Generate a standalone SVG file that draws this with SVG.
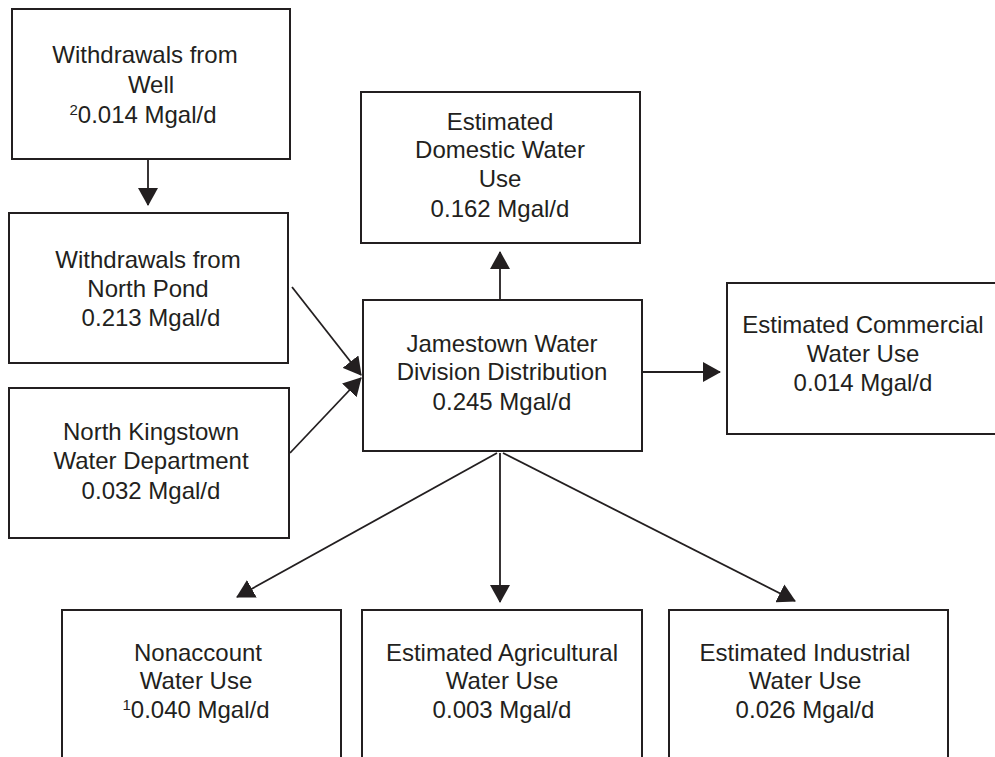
<svg xmlns="http://www.w3.org/2000/svg" width="995" height="757" viewBox="0 0 995 757">
<style>
.box{fill:#fff;stroke:#231f20;stroke-width:2}
.t{font-family:"Liberation Sans",Arial,sans-serif;font-size:24px;fill:#231f20;text-anchor:middle}
.sup{font-size:15px}
.c{stroke:#231f20;stroke-width:1.8;fill:none;marker-end:url(#ah)}
</style>
<defs>
<marker id="ah" viewBox="0 0 18 20" refX="17" refY="10" markerWidth="18" markerHeight="20" markerUnits="userSpaceOnUse" orient="auto">
<path d="M0,0 L18,10 L0,20 z" fill="#231f20"/>
</marker>
</defs>
<rect width="995" height="757" fill="#fff"/>
<g id="connectors">
<line class="c" x1="148" y1="159" x2="148" y2="205"/>
<line class="c" x1="292" y1="287" x2="361" y2="375"/>
<line class="c" x1="290" y1="453" x2="361" y2="378"/>
<line class="c" x1="500" y1="300" x2="500" y2="252"/>
<line class="c" x1="642" y1="372" x2="720" y2="372"/>
<line class="c" x1="497" y1="453" x2="237" y2="597"/>
<line class="c" x1="500" y1="453" x2="500" y2="602"/>
<line class="c" x1="503" y1="453" x2="795" y2="601"/>
</g>
<g id="well">
<rect class="box" x="12" y="9" width="278" height="150"/>
<text class="t" x="145" y="63">Withdrawals from</text>
<text class="t" x="151" y="93">Well</text>
<text class="t" x="143" y="123"><tspan class="sup" dy="-8">2</tspan><tspan dy="8">0.014 Mgal/d</tspan></text>
</g>
<g id="pond">
<rect class="box" x="9" y="213" width="279" height="150"/>
<text class="t" x="148" y="268">Withdrawals from</text>
<text class="t" x="148" y="297">North Pond</text>
<text class="t" x="151" y="326">0.213 Mgal/d</text>
</g>
<g id="nk">
<rect class="box" x="9" y="388" width="280" height="150"/>
<text class="t" x="151" y="440">North Kingstown</text>
<text class="t" x="151" y="469">Water Department</text>
<text class="t" x="151" y="499">0.032 Mgal/d</text>
</g>
<g id="domestic">
<rect class="box" x="361" y="92" width="279" height="151"/>
<text class="t" x="500" y="130">Estimated</text>
<text class="t" x="500" y="158">Domestic Water</text>
<text class="t" x="500" y="187">Use</text>
<text class="t" x="500" y="217">0.162 Mgal/d</text>
</g>
<g id="jamestown">
<rect class="box" x="363" y="300" width="279" height="151"/>
<text class="t" x="502" y="352">Jamestown Water</text>
<text class="t" x="502" y="380">Division Distribution</text>
<text class="t" x="502" y="410">0.245 Mgal/d</text>
</g>
<g id="commercial">
<rect class="box" x="727" y="283" width="280" height="151"/>
<text class="t" x="863" y="333">Estimated Commercial</text>
<text class="t" x="863" y="362">Water Use</text>
<text class="t" x="863" y="391">0.014 Mgal/d</text>
</g>
<g id="nonaccount">
<rect class="box" x="62" y="610" width="279" height="160"/>
<text class="t" x="198" y="661">Nonaccount</text>
<text class="t" x="196" y="689">Water Use</text>
<text class="t" x="196" y="718"><tspan class="sup" dy="-8">1</tspan><tspan dy="8">0.040 Mgal/d</tspan></text>
</g>
<g id="agricultural">
<rect class="box" x="362" y="610" width="280" height="160"/>
<text class="t" x="502" y="661">Estimated Agricultural</text>
<text class="t" x="502" y="689">Water Use</text>
<text class="t" x="502" y="718">0.003 Mgal/d</text>
</g>
<g id="industrial">
<rect class="box" x="669" y="610" width="279" height="160"/>
<text class="t" x="805" y="661">Estimated Industrial</text>
<text class="t" x="805" y="689">Water Use</text>
<text class="t" x="805" y="718">0.026 Mgal/d</text>
</g>
</svg>
